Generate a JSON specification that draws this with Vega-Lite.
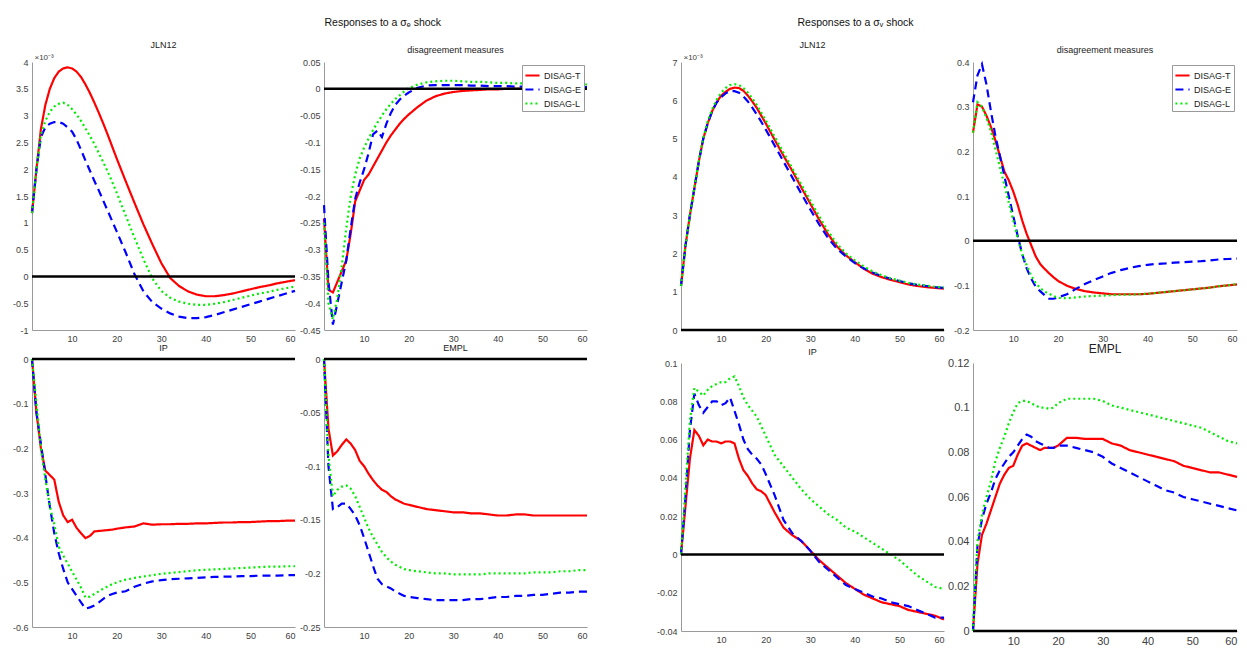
{
"$schema":"https://vega.github.io/schema/vega-lite/v6.json",
"padding":{"left":12,"top":17,"right":4,"bottom":4},
"background":"white",
"config":{"font":"Liberation Sans","view":{"stroke":null},
"axis":{"grid":false,"ticks":false,"domainColor":"#9a9a9a","domainWidth":1,"labelColor":"#404040","labelFontSize":9,"labelPadding":4,"labelOverlap":false},
"axisY":{"labelOverlap":false,"tickCount":20},
"title":{"fontSize":9,"fontWeight":"normal","color":"#222","offset":3}},
"datasets":{
"A":[{"x":1,"DISAG-T":1.18,"DISAG-E":1.18,"DISAG-L":1.18},{"x":2,"DISAG-T":2.0,"DISAG-E":2.0,"DISAG-L":2.0},{"x":3,"DISAG-T":2.75,"DISAG-E":2.6,"DISAG-L":2.65},{"x":4,"DISAG-T":3.2,"DISAG-E":2.78,"DISAG-L":2.9},{"x":5,"DISAG-T":3.5,"DISAG-E":2.85,"DISAG-L":3.07},{"x":6,"DISAG-T":3.7,"DISAG-E":2.88,"DISAG-L":3.17},{"x":7,"DISAG-T":3.82,"DISAG-E":2.88,"DISAG-L":3.22},{"x":8,"DISAG-T":3.88,"DISAG-E":2.85,"DISAG-L":3.24},{"x":9,"DISAG-T":3.9,"DISAG-E":2.78,"DISAG-L":3.2},{"x":10,"DISAG-T":3.88,"DISAG-E":2.7,"DISAG-L":3.12},{"x":11,"DISAG-T":3.82,"DISAG-E":2.55,"DISAG-L":3.02},{"x":12,"DISAG-T":3.72,"DISAG-E":2.36,"DISAG-L":2.9},{"x":13,"DISAG-T":3.58,"DISAG-E":2.16,"DISAG-L":2.76},{"x":14,"DISAG-T":3.42,"DISAG-E":1.97,"DISAG-L":2.62},{"x":15,"DISAG-T":3.24,"DISAG-E":1.78,"DISAG-L":2.47},{"x":16,"DISAG-T":3.05,"DISAG-E":1.6,"DISAG-L":2.3},{"x":17,"DISAG-T":2.85,"DISAG-E":1.41,"DISAG-L":2.13},{"x":18,"DISAG-T":2.64,"DISAG-E":1.22,"DISAG-L":1.95},{"x":19,"DISAG-T":2.42,"DISAG-E":1.03,"DISAG-L":1.76},{"x":20,"DISAG-T":2.2,"DISAG-E":0.84,"DISAG-L":1.56},{"x":22,"DISAG-T":1.78,"DISAG-E":0.45,"DISAG-L":1.14},{"x":24,"DISAG-T":1.37,"DISAG-E":0.04,"DISAG-L":0.72},{"x":26,"DISAG-T":0.97,"DISAG-E":-0.28,"DISAG-L":0.32},{"x":28,"DISAG-T":0.6,"DISAG-E":-0.48,"DISAG-L":-0.04},{"x":30,"DISAG-T":0.25,"DISAG-E":-0.6,"DISAG-L":-0.27},{"x":32,"DISAG-T":-0.03,"DISAG-E":-0.69,"DISAG-L":-0.4},{"x":34,"DISAG-T":-0.18,"DISAG-E":-0.75,"DISAG-L":-0.47},{"x":36,"DISAG-T":-0.28,"DISAG-E":-0.78,"DISAG-L":-0.51},{"x":38,"DISAG-T":-0.34,"DISAG-E":-0.78,"DISAG-L":-0.53},{"x":40,"DISAG-T":-0.37,"DISAG-E":-0.76,"DISAG-L":-0.53},{"x":42,"DISAG-T":-0.37,"DISAG-E":-0.72,"DISAG-L":-0.51},{"x":44,"DISAG-T":-0.35,"DISAG-E":-0.67,"DISAG-L":-0.48},{"x":46,"DISAG-T":-0.32,"DISAG-E":-0.62,"DISAG-L":-0.44},{"x":48,"DISAG-T":-0.28,"DISAG-E":-0.57,"DISAG-L":-0.4},{"x":50,"DISAG-T":-0.24,"DISAG-E":-0.52,"DISAG-L":-0.36},{"x":52,"DISAG-T":-0.2,"DISAG-E":-0.47,"DISAG-L":-0.32},{"x":54,"DISAG-T":-0.17,"DISAG-E":-0.42,"DISAG-L":-0.29},{"x":56,"DISAG-T":-0.13,"DISAG-E":-0.37,"DISAG-L":-0.25},{"x":58,"DISAG-T":-0.1,"DISAG-E":-0.32,"DISAG-L":-0.22},{"x":60,"DISAG-T":-0.07,"DISAG-E":-0.27,"DISAG-L":-0.19}],
"B":[{"x":1,"DISAG-T":-0.242,"DISAG-E":-0.217,"DISAG-L":-0.25},{"x":2,"DISAG-T":-0.375,"DISAG-E":-0.36,"DISAG-L":-0.4},{"x":3,"DISAG-T":-0.38,"DISAG-E":-0.44,"DISAG-L":-0.43},{"x":4,"DISAG-T":-0.36,"DISAG-E":-0.4,"DISAG-L":-0.39},{"x":5,"DISAG-T":-0.34,"DISAG-E":-0.36,"DISAG-L":-0.33},{"x":6,"DISAG-T":-0.32,"DISAG-E":-0.32,"DISAG-L":-0.26},{"x":7,"DISAG-T":-0.27,"DISAG-E":-0.26,"DISAG-L":-0.2},{"x":8,"DISAG-T":-0.21,"DISAG-E":-0.205,"DISAG-L":-0.16},{"x":9,"DISAG-T":-0.19,"DISAG-E":-0.175,"DISAG-L":-0.13},{"x":10,"DISAG-T":-0.17,"DISAG-E":-0.15,"DISAG-L":-0.11},{"x":11,"DISAG-T":-0.16,"DISAG-E":-0.12,"DISAG-L":-0.093},{"x":12,"DISAG-T":-0.145,"DISAG-E":-0.085,"DISAG-L":-0.077},{"x":13,"DISAG-T":-0.13,"DISAG-E":-0.078,"DISAG-L":-0.063},{"x":14,"DISAG-T":-0.115,"DISAG-E":-0.09,"DISAG-L":-0.05},{"x":15,"DISAG-T":-0.1,"DISAG-E":-0.065,"DISAG-L":-0.038},{"x":16,"DISAG-T":-0.087,"DISAG-E":-0.045,"DISAG-L":-0.028},{"x":17,"DISAG-T":-0.076,"DISAG-E":-0.03,"DISAG-L":-0.019},{"x":18,"DISAG-T":-0.065,"DISAG-E":-0.02,"DISAG-L":-0.012},{"x":19,"DISAG-T":-0.056,"DISAG-E":-0.013,"DISAG-L":-0.005},{"x":20,"DISAG-T":-0.048,"DISAG-E":-0.007,"DISAG-L":0.001},{"x":22,"DISAG-T":-0.034,"DISAG-E":0.002,"DISAG-L":0.008},{"x":24,"DISAG-T":-0.022,"DISAG-E":0.006,"DISAG-L":0.012},{"x":26,"DISAG-T":-0.014,"DISAG-E":0.007,"DISAG-L":0.014},{"x":28,"DISAG-T":-0.009,"DISAG-E":0.007,"DISAG-L":0.015},{"x":30,"DISAG-T":-0.006,"DISAG-E":0.007,"DISAG-L":0.015},{"x":32,"DISAG-T":-0.004,"DISAG-E":0.007,"DISAG-L":0.014},{"x":34,"DISAG-T":-0.003,"DISAG-E":0.006,"DISAG-L":0.013},{"x":36,"DISAG-T":-0.002,"DISAG-E":0.006,"DISAG-L":0.013},{"x":38,"DISAG-T":-0.001,"DISAG-E":0.005,"DISAG-L":0.012},{"x":40,"DISAG-T":-0.001,"DISAG-E":0.005,"DISAG-L":0.011},{"x":42,"DISAG-T":0.0,"DISAG-E":0.005,"DISAG-L":0.011},{"x":44,"DISAG-T":0.0,"DISAG-E":0.004,"DISAG-L":0.01},{"x":46,"DISAG-T":0.0,"DISAG-E":0.004,"DISAG-L":0.01},{"x":48,"DISAG-T":0.0,"DISAG-E":0.004,"DISAG-L":0.009},{"x":50,"DISAG-T":0.0,"DISAG-E":0.004,"DISAG-L":0.009},{"x":52,"DISAG-T":0.001,"DISAG-E":0.003,"DISAG-L":0.009},{"x":54,"DISAG-T":0.001,"DISAG-E":0.003,"DISAG-L":0.008},{"x":56,"DISAG-T":0.001,"DISAG-E":0.003,"DISAG-L":0.008},{"x":58,"DISAG-T":0.001,"DISAG-E":0.003,"DISAG-L":0.008},{"x":60,"DISAG-T":0.001,"DISAG-E":0.003,"DISAG-L":0.008}],
"C":[{"x":1,"DISAG-T":0,"DISAG-E":0,"DISAG-L":0},{"x":2,"DISAG-T":-0.12,"DISAG-E":-0.12,"DISAG-L":-0.1},{"x":3,"DISAG-T":-0.2,"DISAG-E":-0.19,"DISAG-L":-0.2},{"x":4,"DISAG-T":-0.25,"DISAG-E":-0.26,"DISAG-L":-0.27},{"x":5,"DISAG-T":-0.26,"DISAG-E":-0.33,"DISAG-L":-0.33},{"x":6,"DISAG-T":-0.27,"DISAG-E":-0.39,"DISAG-L":-0.37},{"x":7,"DISAG-T":-0.32,"DISAG-E":-0.435,"DISAG-L":-0.42},{"x":8,"DISAG-T":-0.35,"DISAG-E":-0.47,"DISAG-L":-0.44},{"x":9,"DISAG-T":-0.365,"DISAG-E":-0.5,"DISAG-L":-0.458},{"x":10,"DISAG-T":-0.36,"DISAG-E":-0.515,"DISAG-L":-0.476},{"x":11,"DISAG-T":-0.378,"DISAG-E":-0.53,"DISAG-L":-0.494},{"x":12,"DISAG-T":-0.39,"DISAG-E":-0.545,"DISAG-L":-0.512},{"x":13,"DISAG-T":-0.401,"DISAG-E":-0.559,"DISAG-L":-0.534},{"x":14,"DISAG-T":-0.396,"DISAG-E":-0.556,"DISAG-L":-0.532},{"x":15,"DISAG-T":-0.386,"DISAG-E":-0.552,"DISAG-L":-0.526},{"x":16,"DISAG-T":-0.385,"DISAG-E":-0.545,"DISAG-L":-0.52},{"x":17,"DISAG-T":-0.384,"DISAG-E":-0.537,"DISAG-L":-0.514},{"x":18,"DISAG-T":-0.383,"DISAG-E":-0.53,"DISAG-L":-0.509},{"x":19,"DISAG-T":-0.382,"DISAG-E":-0.526,"DISAG-L":-0.504},{"x":20,"DISAG-T":-0.38,"DISAG-E":-0.523,"DISAG-L":-0.5},{"x":22,"DISAG-T":-0.377,"DISAG-E":-0.52,"DISAG-L":-0.494},{"x":24,"DISAG-T":-0.375,"DISAG-E":-0.51,"DISAG-L":-0.49},{"x":26,"DISAG-T":-0.368,"DISAG-E":-0.503,"DISAG-L":-0.487},{"x":28,"DISAG-T":-0.371,"DISAG-E":-0.498,"DISAG-L":-0.484},{"x":30,"DISAG-T":-0.37,"DISAG-E":-0.495,"DISAG-L":-0.481},{"x":32,"DISAG-T":-0.37,"DISAG-E":-0.493,"DISAG-L":-0.479},{"x":34,"DISAG-T":-0.369,"DISAG-E":-0.492,"DISAG-L":-0.477},{"x":36,"DISAG-T":-0.369,"DISAG-E":-0.491,"DISAG-L":-0.475},{"x":38,"DISAG-T":-0.368,"DISAG-E":-0.49,"DISAG-L":-0.473},{"x":40,"DISAG-T":-0.368,"DISAG-E":-0.489,"DISAG-L":-0.472},{"x":42,"DISAG-T":-0.367,"DISAG-E":-0.488,"DISAG-L":-0.471},{"x":44,"DISAG-T":-0.366,"DISAG-E":-0.487,"DISAG-L":-0.47},{"x":46,"DISAG-T":-0.366,"DISAG-E":-0.487,"DISAG-L":-0.469},{"x":48,"DISAG-T":-0.365,"DISAG-E":-0.486,"DISAG-L":-0.468},{"x":50,"DISAG-T":-0.365,"DISAG-E":-0.486,"DISAG-L":-0.467},{"x":52,"DISAG-T":-0.364,"DISAG-E":-0.485,"DISAG-L":-0.466},{"x":54,"DISAG-T":-0.363,"DISAG-E":-0.485,"DISAG-L":-0.465},{"x":56,"DISAG-T":-0.363,"DISAG-E":-0.485,"DISAG-L":-0.465},{"x":58,"DISAG-T":-0.362,"DISAG-E":-0.484,"DISAG-L":-0.464},{"x":60,"DISAG-T":-0.362,"DISAG-E":-0.484,"DISAG-L":-0.464}],
"D":[{"x":1,"DISAG-T":0,"DISAG-E":0,"DISAG-L":0},{"x":2,"DISAG-T":-0.065,"DISAG-E":-0.1,"DISAG-L":-0.09},{"x":3,"DISAG-T":-0.09,"DISAG-E":-0.14,"DISAG-L":-0.128},{"x":4,"DISAG-T":-0.086,"DISAG-E":-0.138,"DISAG-L":-0.122},{"x":5,"DISAG-T":-0.08,"DISAG-E":-0.135,"DISAG-L":-0.119},{"x":6,"DISAG-T":-0.075,"DISAG-E":-0.135,"DISAG-L":-0.118},{"x":7,"DISAG-T":-0.079,"DISAG-E":-0.14,"DISAG-L":-0.121},{"x":8,"DISAG-T":-0.085,"DISAG-E":-0.146,"DISAG-L":-0.128},{"x":9,"DISAG-T":-0.095,"DISAG-E":-0.155,"DISAG-L":-0.138},{"x":10,"DISAG-T":-0.1,"DISAG-E":-0.167,"DISAG-L":-0.148},{"x":11,"DISAG-T":-0.107,"DISAG-E":-0.18,"DISAG-L":-0.158},{"x":12,"DISAG-T":-0.113,"DISAG-E":-0.193,"DISAG-L":-0.166},{"x":13,"DISAG-T":-0.118,"DISAG-E":-0.205,"DISAG-L":-0.173},{"x":14,"DISAG-T":-0.122,"DISAG-E":-0.21,"DISAG-L":-0.18},{"x":15,"DISAG-T":-0.124,"DISAG-E":-0.212,"DISAG-L":-0.185},{"x":16,"DISAG-T":-0.128,"DISAG-E":-0.214,"DISAG-L":-0.189},{"x":17,"DISAG-T":-0.131,"DISAG-E":-0.217,"DISAG-L":-0.192},{"x":18,"DISAG-T":-0.133,"DISAG-E":-0.219,"DISAG-L":-0.194},{"x":19,"DISAG-T":-0.135,"DISAG-E":-0.221,"DISAG-L":-0.196},{"x":20,"DISAG-T":-0.136,"DISAG-E":-0.222,"DISAG-L":-0.197},{"x":22,"DISAG-T":-0.138,"DISAG-E":-0.223,"DISAG-L":-0.198},{"x":24,"DISAG-T":-0.14,"DISAG-E":-0.224,"DISAG-L":-0.199},{"x":26,"DISAG-T":-0.141,"DISAG-E":-0.225,"DISAG-L":-0.2},{"x":28,"DISAG-T":-0.142,"DISAG-E":-0.225,"DISAG-L":-0.2},{"x":30,"DISAG-T":-0.143,"DISAG-E":-0.225,"DISAG-L":-0.201},{"x":32,"DISAG-T":-0.143,"DISAG-E":-0.225,"DISAG-L":-0.201},{"x":34,"DISAG-T":-0.144,"DISAG-E":-0.224,"DISAG-L":-0.201},{"x":36,"DISAG-T":-0.144,"DISAG-E":-0.224,"DISAG-L":-0.201},{"x":38,"DISAG-T":-0.145,"DISAG-E":-0.223,"DISAG-L":-0.2},{"x":40,"DISAG-T":-0.146,"DISAG-E":-0.222,"DISAG-L":-0.2},{"x":42,"DISAG-T":-0.146,"DISAG-E":-0.222,"DISAG-L":-0.2},{"x":44,"DISAG-T":-0.145,"DISAG-E":-0.221,"DISAG-L":-0.2},{"x":46,"DISAG-T":-0.145,"DISAG-E":-0.221,"DISAG-L":-0.2},{"x":48,"DISAG-T":-0.146,"DISAG-E":-0.22,"DISAG-L":-0.199},{"x":50,"DISAG-T":-0.146,"DISAG-E":-0.22,"DISAG-L":-0.199},{"x":52,"DISAG-T":-0.146,"DISAG-E":-0.219,"DISAG-L":-0.199},{"x":54,"DISAG-T":-0.146,"DISAG-E":-0.218,"DISAG-L":-0.198},{"x":56,"DISAG-T":-0.146,"DISAG-E":-0.218,"DISAG-L":-0.198},{"x":58,"DISAG-T":-0.146,"DISAG-E":-0.217,"DISAG-L":-0.197},{"x":60,"DISAG-T":-0.146,"DISAG-E":-0.217,"DISAG-L":-0.197}],
"E":[{"x":1,"DISAG-T":1.15,"DISAG-E":1.15,"DISAG-L":1.15},{"x":2,"DISAG-T":2.2,"DISAG-E":2.2,"DISAG-L":2.2},{"x":3,"DISAG-T":3.0,"DISAG-E":3.0,"DISAG-L":3.0},{"x":4,"DISAG-T":3.7,"DISAG-E":3.7,"DISAG-L":3.72},{"x":5,"DISAG-T":4.4,"DISAG-E":4.4,"DISAG-L":4.42},{"x":6,"DISAG-T":5.0,"DISAG-E":5.0,"DISAG-L":5.02},{"x":7,"DISAG-T":5.4,"DISAG-E":5.4,"DISAG-L":5.45},{"x":8,"DISAG-T":5.72,"DISAG-E":5.72,"DISAG-L":5.77},{"x":9,"DISAG-T":5.95,"DISAG-E":5.94,"DISAG-L":6.02},{"x":10,"DISAG-T":6.12,"DISAG-E":6.08,"DISAG-L":6.2},{"x":11,"DISAG-T":6.22,"DISAG-E":6.18,"DISAG-L":6.32},{"x":12,"DISAG-T":6.3,"DISAG-E":6.24,"DISAG-L":6.4},{"x":13,"DISAG-T":6.33,"DISAG-E":6.24,"DISAG-L":6.42},{"x":14,"DISAG-T":6.32,"DISAG-E":6.2,"DISAG-L":6.4},{"x":15,"DISAG-T":6.25,"DISAG-E":6.1,"DISAG-L":6.32},{"x":16,"DISAG-T":6.12,"DISAG-E":5.97,"DISAG-L":6.2},{"x":17,"DISAG-T":5.97,"DISAG-E":5.81,"DISAG-L":6.05},{"x":18,"DISAG-T":5.8,"DISAG-E":5.63,"DISAG-L":5.88},{"x":19,"DISAG-T":5.6,"DISAG-E":5.44,"DISAG-L":5.68},{"x":20,"DISAG-T":5.4,"DISAG-E":5.24,"DISAG-L":5.48},{"x":22,"DISAG-T":4.97,"DISAG-E":4.82,"DISAG-L":5.05},{"x":24,"DISAG-T":4.55,"DISAG-E":4.4,"DISAG-L":4.63},{"x":26,"DISAG-T":4.15,"DISAG-E":3.98,"DISAG-L":4.22},{"x":28,"DISAG-T":3.72,"DISAG-E":3.56,"DISAG-L":3.8},{"x":30,"DISAG-T":3.3,"DISAG-E":3.15,"DISAG-L":3.38},{"x":32,"DISAG-T":2.88,"DISAG-E":2.76,"DISAG-L":2.97},{"x":34,"DISAG-T":2.5,"DISAG-E":2.4,"DISAG-L":2.58},{"x":36,"DISAG-T":2.18,"DISAG-E":2.12,"DISAG-L":2.25},{"x":38,"DISAG-T":1.95,"DISAG-E":1.92,"DISAG-L":2.0},{"x":40,"DISAG-T":1.77,"DISAG-E":1.75,"DISAG-L":1.82},{"x":42,"DISAG-T":1.6,"DISAG-E":1.61,"DISAG-L":1.66},{"x":44,"DISAG-T":1.47,"DISAG-E":1.5,"DISAG-L":1.53},{"x":46,"DISAG-T":1.38,"DISAG-E":1.41,"DISAG-L":1.43},{"x":48,"DISAG-T":1.31,"DISAG-E":1.34,"DISAG-L":1.35},{"x":50,"DISAG-T":1.25,"DISAG-E":1.28,"DISAG-L":1.29},{"x":52,"DISAG-T":1.19,"DISAG-E":1.22,"DISAG-L":1.23},{"x":54,"DISAG-T":1.15,"DISAG-E":1.18,"DISAG-L":1.19},{"x":56,"DISAG-T":1.12,"DISAG-E":1.15,"DISAG-L":1.16},{"x":58,"DISAG-T":1.1,"DISAG-E":1.12,"DISAG-L":1.13},{"x":60,"DISAG-T":1.08,"DISAG-E":1.1,"DISAG-L":1.11}],
"F":[{"x":1,"DISAG-T":0.242,"DISAG-E":0.31,"DISAG-L":0.242},{"x":2,"DISAG-T":0.305,"DISAG-E":0.37,"DISAG-L":0.31},{"x":3,"DISAG-T":0.3,"DISAG-E":0.395,"DISAG-L":0.3},{"x":4,"DISAG-T":0.28,"DISAG-E":0.35,"DISAG-L":0.275},{"x":5,"DISAG-T":0.255,"DISAG-E":0.29,"DISAG-L":0.245},{"x":6,"DISAG-T":0.225,"DISAG-E":0.235,"DISAG-L":0.205},{"x":7,"DISAG-T":0.19,"DISAG-E":0.19,"DISAG-L":0.165},{"x":8,"DISAG-T":0.155,"DISAG-E":0.145,"DISAG-L":0.125},{"x":9,"DISAG-T":0.135,"DISAG-E":0.1,"DISAG-L":0.085},{"x":10,"DISAG-T":0.11,"DISAG-E":0.055,"DISAG-L":0.045},{"x":11,"DISAG-T":0.08,"DISAG-E":0.01,"DISAG-L":0.005},{"x":12,"DISAG-T":0.045,"DISAG-E":-0.03,"DISAG-L":-0.03},{"x":13,"DISAG-T":0.015,"DISAG-E":-0.062,"DISAG-L":-0.055},{"x":14,"DISAG-T":-0.01,"DISAG-E":-0.085,"DISAG-L":-0.078},{"x":15,"DISAG-T":-0.035,"DISAG-E":-0.103,"DISAG-L":-0.095},{"x":16,"DISAG-T":-0.052,"DISAG-E":-0.113,"DISAG-L":-0.106},{"x":17,"DISAG-T":-0.063,"DISAG-E":-0.122,"DISAG-L":-0.114},{"x":18,"DISAG-T":-0.073,"DISAG-E":-0.13,"DISAG-L":-0.119},{"x":19,"DISAG-T":-0.082,"DISAG-E":-0.13,"DISAG-L":-0.124},{"x":20,"DISAG-T":-0.09,"DISAG-E":-0.127,"DISAG-L":-0.128},{"x":22,"DISAG-T":-0.101,"DISAG-E":-0.12,"DISAG-L":-0.129},{"x":24,"DISAG-T":-0.108,"DISAG-E":-0.108,"DISAG-L":-0.127},{"x":26,"DISAG-T":-0.113,"DISAG-E":-0.097,"DISAG-L":-0.125},{"x":28,"DISAG-T":-0.116,"DISAG-E":-0.088,"DISAG-L":-0.124},{"x":30,"DISAG-T":-0.118,"DISAG-E":-0.08,"DISAG-L":-0.123},{"x":32,"DISAG-T":-0.12,"DISAG-E":-0.072,"DISAG-L":-0.122},{"x":34,"DISAG-T":-0.12,"DISAG-E":-0.066,"DISAG-L":-0.121},{"x":36,"DISAG-T":-0.12,"DISAG-E":-0.061,"DISAG-L":-0.121},{"x":38,"DISAG-T":-0.12,"DISAG-E":-0.057,"DISAG-L":-0.12},{"x":40,"DISAG-T":-0.119,"DISAG-E":-0.054,"DISAG-L":-0.119},{"x":42,"DISAG-T":-0.117,"DISAG-E":-0.052,"DISAG-L":-0.117},{"x":44,"DISAG-T":-0.115,"DISAG-E":-0.051,"DISAG-L":-0.115},{"x":46,"DISAG-T":-0.113,"DISAG-E":-0.049,"DISAG-L":-0.113},{"x":48,"DISAG-T":-0.111,"DISAG-E":-0.048,"DISAG-L":-0.111},{"x":50,"DISAG-T":-0.109,"DISAG-E":-0.047,"DISAG-L":-0.109},{"x":52,"DISAG-T":-0.107,"DISAG-E":-0.046,"DISAG-L":-0.107},{"x":54,"DISAG-T":-0.105,"DISAG-E":-0.044,"DISAG-L":-0.105},{"x":56,"DISAG-T":-0.102,"DISAG-E":-0.042,"DISAG-L":-0.102},{"x":58,"DISAG-T":-0.1,"DISAG-E":-0.041,"DISAG-L":-0.1},{"x":60,"DISAG-T":-0.098,"DISAG-E":-0.04,"DISAG-L":-0.097}],
"G":[{"x":1,"DISAG-T":0,"DISAG-E":0,"DISAG-L":0},{"x":2,"DISAG-T":0.025,"DISAG-E":0.03,"DISAG-L":0.035},{"x":3,"DISAG-T":0.05,"DISAG-E":0.065,"DISAG-L":0.07},{"x":4,"DISAG-T":0.065,"DISAG-E":0.084,"DISAG-L":0.087},{"x":5,"DISAG-T":0.062,"DISAG-E":0.078,"DISAG-L":0.085},{"x":6,"DISAG-T":0.057,"DISAG-E":0.074,"DISAG-L":0.083},{"x":7,"DISAG-T":0.06,"DISAG-E":0.077,"DISAG-L":0.086},{"x":8,"DISAG-T":0.059,"DISAG-E":0.08,"DISAG-L":0.088},{"x":9,"DISAG-T":0.059,"DISAG-E":0.08,"DISAG-L":0.089},{"x":10,"DISAG-T":0.058,"DISAG-E":0.078,"DISAG-L":0.09},{"x":11,"DISAG-T":0.059,"DISAG-E":0.079,"DISAG-L":0.09},{"x":12,"DISAG-T":0.059,"DISAG-E":0.082,"DISAG-L":0.092},{"x":13,"DISAG-T":0.058,"DISAG-E":0.075,"DISAG-L":0.093},{"x":14,"DISAG-T":0.05,"DISAG-E":0.068,"DISAG-L":0.088},{"x":15,"DISAG-T":0.044,"DISAG-E":0.06,"DISAG-L":0.082},{"x":16,"DISAG-T":0.041,"DISAG-E":0.055,"DISAG-L":0.078},{"x":17,"DISAG-T":0.037,"DISAG-E":0.052,"DISAG-L":0.075},{"x":18,"DISAG-T":0.034,"DISAG-E":0.05,"DISAG-L":0.072},{"x":19,"DISAG-T":0.033,"DISAG-E":0.047,"DISAG-L":0.067},{"x":20,"DISAG-T":0.031,"DISAG-E":0.042,"DISAG-L":0.062},{"x":22,"DISAG-T":0.022,"DISAG-E":0.031,"DISAG-L":0.052},{"x":24,"DISAG-T":0.014,"DISAG-E":0.018,"DISAG-L":0.046},{"x":26,"DISAG-T":0.01,"DISAG-E":0.011,"DISAG-L":0.04},{"x":28,"DISAG-T":0.007,"DISAG-E":0.007,"DISAG-L":0.034},{"x":30,"DISAG-T":0.002,"DISAG-E":0.002,"DISAG-L":0.029},{"x":32,"DISAG-T":-0.003,"DISAG-E":-0.004,"DISAG-L":0.025},{"x":34,"DISAG-T":-0.007,"DISAG-E":-0.008,"DISAG-L":0.021},{"x":36,"DISAG-T":-0.011,"DISAG-E":-0.012,"DISAG-L":0.018},{"x":38,"DISAG-T":-0.015,"DISAG-E":-0.016,"DISAG-L":0.014},{"x":40,"DISAG-T":-0.018,"DISAG-E":-0.018,"DISAG-L":0.012},{"x":42,"DISAG-T":-0.021,"DISAG-E":-0.02,"DISAG-L":0.009},{"x":44,"DISAG-T":-0.023,"DISAG-E":-0.022,"DISAG-L":0.006},{"x":46,"DISAG-T":-0.025,"DISAG-E":-0.023,"DISAG-L":0.003},{"x":48,"DISAG-T":-0.026,"DISAG-E":-0.025,"DISAG-L":0.0},{"x":50,"DISAG-T":-0.027,"DISAG-E":-0.026,"DISAG-L":-0.003},{"x":52,"DISAG-T":-0.029,"DISAG-E":-0.027,"DISAG-L":-0.007},{"x":54,"DISAG-T":-0.03,"DISAG-E":-0.029,"DISAG-L":-0.011},{"x":56,"DISAG-T":-0.031,"DISAG-E":-0.031,"DISAG-L":-0.014},{"x":58,"DISAG-T":-0.032,"DISAG-E":-0.033,"DISAG-L":-0.017},{"x":60,"DISAG-T":-0.034,"DISAG-E":-0.033,"DISAG-L":-0.018}],
"H":[{"x":1,"DISAG-T":0,"DISAG-E":0,"DISAG-L":0},{"x":2,"DISAG-T":0.03,"DISAG-E":0.038,"DISAG-L":0.04},{"x":3,"DISAG-T":0.043,"DISAG-E":0.05,"DISAG-L":0.052},{"x":4,"DISAG-T":0.048,"DISAG-E":0.057,"DISAG-L":0.06},{"x":5,"DISAG-T":0.054,"DISAG-E":0.062,"DISAG-L":0.067},{"x":6,"DISAG-T":0.06,"DISAG-E":0.068,"DISAG-L":0.076},{"x":7,"DISAG-T":0.066,"DISAG-E":0.072,"DISAG-L":0.082},{"x":8,"DISAG-T":0.07,"DISAG-E":0.075,"DISAG-L":0.087},{"x":9,"DISAG-T":0.073,"DISAG-E":0.078,"DISAG-L":0.093},{"x":10,"DISAG-T":0.074,"DISAG-E":0.08,"DISAG-L":0.098},{"x":11,"DISAG-T":0.079,"DISAG-E":0.083,"DISAG-L":0.102},{"x":12,"DISAG-T":0.083,"DISAG-E":0.086,"DISAG-L":0.103},{"x":13,"DISAG-T":0.084,"DISAG-E":0.088,"DISAG-L":0.103},{"x":14,"DISAG-T":0.083,"DISAG-E":0.087,"DISAG-L":0.102},{"x":15,"DISAG-T":0.082,"DISAG-E":0.085,"DISAG-L":0.101},{"x":16,"DISAG-T":0.081,"DISAG-E":0.084,"DISAG-L":0.1},{"x":17,"DISAG-T":0.082,"DISAG-E":0.083,"DISAG-L":0.1},{"x":18,"DISAG-T":0.082,"DISAG-E":0.082,"DISAG-L":0.0995},{"x":19,"DISAG-T":0.082,"DISAG-E":0.082,"DISAG-L":0.1},{"x":20,"DISAG-T":0.083,"DISAG-E":0.083,"DISAG-L":0.102},{"x":22,"DISAG-T":0.0865,"DISAG-E":0.083,"DISAG-L":0.104},{"x":24,"DISAG-T":0.0865,"DISAG-E":0.082,"DISAG-L":0.104},{"x":26,"DISAG-T":0.086,"DISAG-E":0.081,"DISAG-L":0.104},{"x":28,"DISAG-T":0.086,"DISAG-E":0.08,"DISAG-L":0.104},{"x":30,"DISAG-T":0.086,"DISAG-E":0.078,"DISAG-L":0.103},{"x":32,"DISAG-T":0.084,"DISAG-E":0.075,"DISAG-L":0.101},{"x":34,"DISAG-T":0.083,"DISAG-E":0.073,"DISAG-L":0.1},{"x":36,"DISAG-T":0.081,"DISAG-E":0.071,"DISAG-L":0.099},{"x":38,"DISAG-T":0.08,"DISAG-E":0.069,"DISAG-L":0.098},{"x":40,"DISAG-T":0.079,"DISAG-E":0.067,"DISAG-L":0.097},{"x":42,"DISAG-T":0.078,"DISAG-E":0.065,"DISAG-L":0.096},{"x":44,"DISAG-T":0.077,"DISAG-E":0.063,"DISAG-L":0.095},{"x":46,"DISAG-T":0.076,"DISAG-E":0.062,"DISAG-L":0.094},{"x":48,"DISAG-T":0.074,"DISAG-E":0.06,"DISAG-L":0.093},{"x":50,"DISAG-T":0.073,"DISAG-E":0.059,"DISAG-L":0.092},{"x":52,"DISAG-T":0.072,"DISAG-E":0.058,"DISAG-L":0.091},{"x":54,"DISAG-T":0.071,"DISAG-E":0.057,"DISAG-L":0.089},{"x":56,"DISAG-T":0.071,"DISAG-E":0.056,"DISAG-L":0.087},{"x":58,"DISAG-T":0.07,"DISAG-E":0.055,"DISAG-L":0.085},{"x":60,"DISAG-T":0.069,"DISAG-E":0.054,"DISAG-L":0.084}]
},
"hconcat":[
{"title":{"text":"Responses to a σₑ shock","anchor":"start","dx":312,"fontSize":10.5,"fontWeight":"normal","color":"#111","offset":13},
 "spacing":0,
 "resolve":{"legend":{"color":"independent","strokeDash":"independent"}},
 "vconcat":[
 {"spacing":29,"bounds":"flush","resolve":{"legend":{"color":"independent","strokeDash":"independent"}},
  "hconcat":[
  {"width":263,"height":268,"title":{"text":"JLN12"},
   "layer":[
    {"data":{"name":"A"},"transform":[{"fold":["DISAG-T","DISAG-E","DISAG-L"],"as":["series","value"]}],
     "mark":{"type":"line","strokeWidth":2.2},
     "encoding":{
      "x":{"field":"x","type":"quantitative","scale":{"domain":[1,60],"nice":false},"axis":{"values":[10,20,30,40,50,60],"title":null}},
      "y":{"field":"value","type":"quantitative","scale":{"domain":[-1,4],"nice":false},"axis":{"values":[-1,-0.5,0,0.5,1,1.5,2,2.5,3,3.5,4],"tickCount":20,"labelOverlap":false,"labelExpr":"replace(format(datum.value,'~g'),'−','-')","title":"×10⁻³","titleAngle":0,"titleAlign":"left","titleBaseline":"bottom","titleX":2,"titleY":-1,"titleFontSize":8,"titleFontWeight":"normal","titleColor":"#404040"}},
      "color":{"field":"series","type":"nominal","scale":{"domain":["DISAG-T","DISAG-E","DISAG-L"],"range":["#ff0000","#0000ff","#00ee00"]},"legend":null},
      "strokeDash":{"field":"series","type":"nominal","scale":{"domain":["DISAG-T","DISAG-E","DISAG-L"],"range":[[1,0],[8,5],[2,3]]},"legend":null}}},
    {"data":{"values":[{}]},"mark":{"type":"rule","color":"black","strokeWidth":2.5},"encoding":{"y":{"datum":0}}}
   ]},
  {"width":263,"height":268,"title":{"text":"disagreement measures"},
   "layer":[
    {"data":{"name":"B"},"transform":[{"fold":["DISAG-T","DISAG-E","DISAG-L"],"as":["series","value"]}],
     "mark":{"type":"line","strokeWidth":2.2},
     "encoding":{
      "x":{"field":"x","type":"quantitative","scale":{"domain":[1,60],"nice":false},"axis":{"values":[10,20,30,40,50,60],"title":null}},
      "y":{"field":"value","type":"quantitative","scale":{"domain":[-0.45,0.05],"nice":false},"axis":{"values":[-0.45,-0.4,-0.35,-0.3,-0.25,-0.2,-0.15,-0.1,-0.05,0,0.05],"tickCount":20,"labelOverlap":false,"labelExpr":"replace(format(datum.value,'~g'),'−','-')","title":null}},
      "color":{"field":"series","type":"nominal","scale":{"domain":["DISAG-T","DISAG-E","DISAG-L"],"range":["#ff0000","#0000ff","#00ee00"]},"legend":{"title":null,"orient":"top-right","offset":3,"symbolType":"stroke","symbolSize":200,"symbolStrokeWidth":2.2,"labelFontSize":9,"labelColor":"#222","strokeColor":"#999","fillColor":"white","padding":2,"rowPadding":0,"labelOffset":3}},
      "strokeDash":{"field":"series","type":"nominal","scale":{"domain":["DISAG-T","DISAG-E","DISAG-L"],"range":[[1,0],[8,5],[2,3]]},"legend":{"title":null,"orient":"top-right","offset":3,"symbolType":"stroke","symbolSize":200,"symbolStrokeWidth":2.2,"labelFontSize":9,"labelColor":"#222","strokeColor":"#999","fillColor":"white","padding":2,"rowPadding":0,"labelOffset":3}}}},
    {"data":{"values":[{}]},"mark":{"type":"rule","color":"black","strokeWidth":2.5},"encoding":{"y":{"datum":0}}}
   ]}
  ]},
 {"spacing":29,"bounds":"flush","resolve":{"legend":{"color":"independent","strokeDash":"independent"}},
  "hconcat":[
  {"width":263,"height":268,"title":{"text":"IP","offset":2},
   "layer":[
    {"data":{"name":"C"},"transform":[{"fold":["DISAG-T","DISAG-E","DISAG-L"],"as":["series","value"]}],
     "mark":{"type":"line","strokeWidth":2.2},
     "encoding":{
      "x":{"field":"x","type":"quantitative","scale":{"domain":[1,60],"nice":false},"axis":{"values":[10,20,30,40,50,60],"title":null}},
      "y":{"field":"value","type":"quantitative","scale":{"domain":[-0.6,0],"nice":false},"axis":{"values":[-0.6,-0.5,-0.4,-0.3,-0.2,-0.1,0],"tickCount":20,"labelOverlap":false,"labelExpr":"replace(format(datum.value,'~g'),'−','-')","title":null}},
      "color":{"field":"series","type":"nominal","scale":{"domain":["DISAG-T","DISAG-E","DISAG-L"],"range":["#ff0000","#0000ff","#00ee00"]},"legend":null},
      "strokeDash":{"field":"series","type":"nominal","scale":{"domain":["DISAG-T","DISAG-E","DISAG-L"],"range":[[1,0],[8,5],[2,3]]},"legend":null}}},
    {"data":{"values":[{}]},"mark":{"type":"rule","color":"black","strokeWidth":2.5},"encoding":{"y":{"datum":0}}}
   ]},
  {"width":263,"height":268,"title":{"text":"EMPL","offset":2},
   "layer":[
    {"data":{"name":"D"},"transform":[{"fold":["DISAG-T","DISAG-E","DISAG-L"],"as":["series","value"]}],
     "mark":{"type":"line","strokeWidth":2.2},
     "encoding":{
      "x":{"field":"x","type":"quantitative","scale":{"domain":[1,60],"nice":false},"axis":{"values":[10,20,30,40,50,60],"title":null}},
      "y":{"field":"value","type":"quantitative","scale":{"domain":[-0.25,0],"nice":false},"axis":{"values":[-0.25,-0.2,-0.15,-0.1,-0.05,0],"tickCount":20,"labelOverlap":false,"labelExpr":"replace(format(datum.value,'~g'),'−','-')","title":null}},
      "color":{"field":"series","type":"nominal","scale":{"domain":["DISAG-T","DISAG-E","DISAG-L"],"range":["#ff0000","#0000ff","#00ee00"]},"legend":null},
      "strokeDash":{"field":"series","type":"nominal","scale":{"domain":["DISAG-T","DISAG-E","DISAG-L"],"range":[[1,0],[8,5],[2,3]]},"legend":null}}},
    {"data":{"values":[{}]},"mark":{"type":"rule","color":"black","strokeWidth":2.5},"encoding":{"y":{"datum":0}}}
   ]}
  ]}
 ]},
{"title":{"text":"Responses to a σᵥ shock","anchor":"start","dx":141,"fontSize":10.5,"fontWeight":"normal","color":"#111","offset":13},
 "spacing":0,
 "resolve":{"legend":{"color":"independent","strokeDash":"independent"}},
 "vconcat":[
 {"spacing":29,"bounds":"flush","resolve":{"legend":{"color":"independent","strokeDash":"independent"}},
  "hconcat":[
  {"width":263,"height":268,"title":{"text":"JLN12"},
   "layer":[
    {"data":{"name":"E"},"transform":[{"fold":["DISAG-T","DISAG-E","DISAG-L"],"as":["series","value"]}],
     "mark":{"type":"line","strokeWidth":2.2},
     "encoding":{
      "x":{"field":"x","type":"quantitative","scale":{"domain":[1,60],"nice":false},"axis":{"values":[10,20,30,40,50,60],"title":null}},
      "y":{"field":"value","type":"quantitative","scale":{"domain":[0,7],"nice":false},"axis":{"values":[0,1,2,3,4,5,6,7],"tickCount":20,"labelOverlap":false,"labelExpr":"replace(format(datum.value,'~g'),'−','-')","title":"×10⁻³","titleAngle":0,"titleAlign":"left","titleBaseline":"bottom","titleX":2,"titleY":-1,"titleFontSize":8,"titleFontWeight":"normal","titleColor":"#404040"}},
      "color":{"field":"series","type":"nominal","scale":{"domain":["DISAG-T","DISAG-E","DISAG-L"],"range":["#ff0000","#0000ff","#00ee00"]},"legend":null},
      "strokeDash":{"field":"series","type":"nominal","scale":{"domain":["DISAG-T","DISAG-E","DISAG-L"],"range":[[1,0],[8,5],[2,3]]},"legend":null}}},
    {"data":{"values":[{}]},"mark":{"type":"rule","color":"black","strokeWidth":2.5},"encoding":{"y":{"datum":0}}}
   ]},
  {"width":264,"height":268,"title":{"text":"disagreement measures"},
   "layer":[
    {"data":{"name":"F"},"transform":[{"fold":["DISAG-T","DISAG-E","DISAG-L"],"as":["series","value"]}],
     "mark":{"type":"line","strokeWidth":2.2},
     "encoding":{
      "x":{"field":"x","type":"quantitative","scale":{"domain":[1,60],"nice":false},"axis":{"values":[10,20,30,40,50,60],"title":null}},
      "y":{"field":"value","type":"quantitative","scale":{"domain":[-0.2,0.4],"nice":false},"axis":{"values":[-0.2,-0.1,0,0.1,0.2,0.3,0.4],"tickCount":20,"labelOverlap":false,"labelExpr":"replace(format(datum.value,'~g'),'−','-')","title":null}},
      "color":{"field":"series","type":"nominal","scale":{"domain":["DISAG-T","DISAG-E","DISAG-L"],"range":["#ff0000","#0000ff","#00ee00"]},"legend":{"title":null,"orient":"top-right","offset":3,"symbolType":"stroke","symbolSize":200,"symbolStrokeWidth":2.2,"labelFontSize":9,"labelColor":"#222","strokeColor":"#999","fillColor":"white","padding":2,"rowPadding":0,"labelOffset":3}},
      "strokeDash":{"field":"series","type":"nominal","scale":{"domain":["DISAG-T","DISAG-E","DISAG-L"],"range":[[1,0],[8,5],[2,3]]},"legend":{"title":null,"orient":"top-right","offset":3,"symbolType":"stroke","symbolSize":200,"symbolStrokeWidth":2.2,"labelFontSize":9,"labelColor":"#222","strokeColor":"#999","fillColor":"white","padding":2,"rowPadding":0,"labelOffset":3}}}},
    {"data":{"values":[{}]},"mark":{"type":"rule","color":"black","strokeWidth":2.5},"encoding":{"y":{"datum":0}}}
   ]}
  ]},
 {"spacing":29,"bounds":"flush","resolve":{"legend":{"color":"independent","strokeDash":"independent"}},
  "hconcat":[
  {"width":263,"height":268,"title":{"text":"IP","offset":2},
   "layer":[
    {"data":{"name":"G"},"transform":[{"fold":["DISAG-T","DISAG-E","DISAG-L"],"as":["series","value"]}],
     "mark":{"type":"line","strokeWidth":2.2},
     "encoding":{
      "x":{"field":"x","type":"quantitative","scale":{"domain":[1,60],"nice":false},"axis":{"values":[10,20,30,40,50,60],"title":null}},
      "y":{"field":"value","type":"quantitative","scale":{"domain":[-0.04,0.1],"nice":false},"axis":{"values":[-0.04,-0.02,0,0.02,0.04,0.06,0.08,0.1],"tickCount":20,"labelOverlap":false,"labelExpr":"replace(format(datum.value,'~g'),'−','-')","title":null}},
      "color":{"field":"series","type":"nominal","scale":{"domain":["DISAG-T","DISAG-E","DISAG-L"],"range":["#ff0000","#0000ff","#00ee00"]},"legend":null},
      "strokeDash":{"field":"series","type":"nominal","scale":{"domain":["DISAG-T","DISAG-E","DISAG-L"],"range":[[1,0],[8,5],[2,3]]},"legend":null}}},
    {"data":{"values":[{}]},"mark":{"type":"rule","color":"black","strokeWidth":2.5},"encoding":{"y":{"datum":0}}}
   ]},
  {"width":264,"height":268,"title":{"text":"EMPL","fontSize":12,"offset":1},
   "layer":[
    {"data":{"name":"H"},"transform":[{"fold":["DISAG-T","DISAG-E","DISAG-L"],"as":["series","value"]}],
     "mark":{"type":"line","strokeWidth":2.2},
     "encoding":{
      "x":{"field":"x","type":"quantitative","scale":{"domain":[1,60],"nice":false},"axis":{"values":[10,20,30,40,50,60],"title":null,"labelFontSize":11}},
      "y":{"field":"value","type":"quantitative","scale":{"domain":[0,0.12],"nice":false},"axis":{"values":[0,0.02,0.04,0.06,0.08,0.1,0.12],"tickCount":20,"labelOverlap":false,"labelExpr":"replace(format(datum.value,'~g'),'−','-')","title":null,"labelFontSize":11}},
      "color":{"field":"series","type":"nominal","scale":{"domain":["DISAG-T","DISAG-E","DISAG-L"],"range":["#ff0000","#0000ff","#00ee00"]},"legend":null},
      "strokeDash":{"field":"series","type":"nominal","scale":{"domain":["DISAG-T","DISAG-E","DISAG-L"],"range":[[1,0],[8,5],[2,3]]},"legend":null}}},
    {"data":{"values":[{}]},"mark":{"type":"rule","color":"black","strokeWidth":2.5},"encoding":{"y":{"datum":0}}}
   ]}
  ]}
 ]}
],
"spacing":64,
"resolve":{"legend":{"color":"independent","strokeDash":"independent"}}
}
